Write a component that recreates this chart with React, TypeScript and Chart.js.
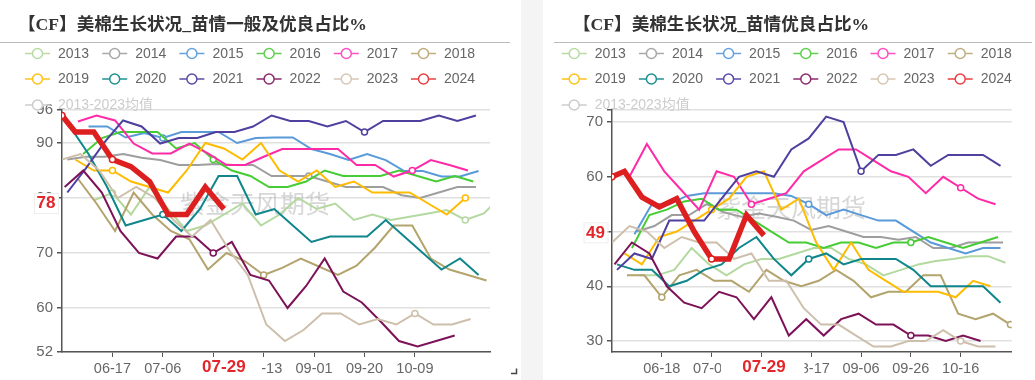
import React, { useEffect, useRef } from 'react';
import { Chart, registerables } from 'chart.js';

Chart.register(...registerables);

// ---------- shared ----------
const SERIES_NAMES = ['2013', '2014', '2015', '2016', '2017', '2018', '2019', '2020', '2021', '2022', '2023', '2024'];
const HIDDEN_LEGEND = '2013-2023均值';
const LINE_COLORS = ['#b4d9a0', '#9e9e9e', '#5a9ad8', '#46cc34', '#ff2aa8', '#b3a36c', '#ffbb00', '#0f868b', '#4f3f9e', '#7d1258', '#cdbfab', '#dd1f1f'];
const LEGEND_COLORS = ['#b8dba4', '#a8a8a8', '#64a2e0', '#5fcf4f', '#ff4fc0', '#bfae80', '#ffc21a', '#1f9090', '#5a4aa8', '#8c2a6a', '#d4c6b2', '#e84040'];
const WATERMARK = '紫金天风期货';
const POINTER_LABEL = '07-29';
const POINTER_DAY = 61; // days after 05-29

// ---------- left chart: 苗情一般及优良占比 ----------
const LEFT_TITLE = '【CF】美棉生长状况_苗情一般及优良占比%';
const LEFT_Y_TICKS = [52, 60, 70, 80, 90, 96];
const LEFT_Y_LABELS = [52, 60, 70, 80, 90, 96];
const LEFT_X_TICK_DAYS = [19, 38, 57, 76, 95, 114, 133];
const LEFT_X_TICK_LABELS = ['06-17', '07-06', '07-25', '08-13', '09-01', '09-20', '10-09'];
const LEFT_STARTS = [12, 2, 10, 8, 6, 6, 5, -4, 2, 1, 0];
const L2013 = [79.6, 80.9, 77, 82, 78, 74, 75, 77, 79, 75, 77, 80, 78, 79, 76, 77, 76, 76.6, 77.2, 77.8, 76, 77.2, 80.5];
const L2014 = [87, 87.5, 87.5, 88, 87.3, 86.9, 86, 86, 86.2, 86, 86, 84, 84, 84, 83, 82, 82, 82, 80.5, 80, 81, 82, 82];
const L2015 = [93, 93, 91, 91.8, 90.9, 92, 92, 92, 90, 90.9, 91, 91, 88.9, 88, 86.9, 88, 86.9, 84.9, 84.9, 83.9, 83.9, 84.9];
const L2016 = [88, 90.9, 92, 92, 92, 89, 90, 87, 85, 84, 82, 82, 83, 85, 84, 84, 84, 85, 84, 83, 84, 83];
const L2017 = [93.9, 95, 94.1, 89.9, 88.1, 88.1, 89.9, 88.1, 86, 86, 87.5, 88.9, 88.9, 88.9, 88.9, 86, 86, 83.9, 85, 86.9, 86, 85];
const L2018 = [83.5, 79, 74, 81, 77, 74, 72.5, 67, 70, 68.5, 66, 67.3, 69, 67.5, 66, 67.7, 71, 75, 75, 69, 67, 66, 65];
const L2019 = [87, 85, 85, 83, 82, 81, 85, 90, 89, 87, 90, 85, 83, 85, 82, 83, 81, 81, 81, 79, 77, 80];
const L2020 = [98.5, 93, 88, 82, 75, 76, 77, 74, 78, 84, 84, 77, 78, 75, 72, 73, 73, 73, 76, 73, 70, 67, 69, 66];
const L2021 = [81, 85.4, 90.1, 94.1, 93, 89.9, 90.9, 90.9, 92, 92, 93, 95, 94, 94, 93, 94, 92, 94, 94, 94, 95, 94, 95];
const L2022 = [82, 85, 81, 74, 70, 69, 73, 73, 70, 72, 66, 65, 60, 64, 69, 63, 61, 57.6, 54, 53, 54, 55];
const L2023 = [87, 88, 85, 80, 82, 80, 76, 73, 76, 70.5, 66, 57, 54, 56, 59, 59, 57, 58, 57, 59, 57, 57, 58];
const L2024_DAYS = [0, 5, 12, 19, 26, 33, 40, 47, 54, 61];
const L2024 = [95, 92, 92, 87, 85.7, 83, 77, 77, 82, 78];
const LEFT_MARKS = [[1, 20], [13], [4], [7], [18], [10], [2, 21], [6], [16], [8], [19], [0, 3]];

// ---------- right chart: 苗情优良占比 ----------
const RIGHT_TITLE = '【CF】美棉生长状况_苗情优良占比%';
const RIGHT_Y_TICKS = [30, 40, 50, 60, 70, 72.2];
const RIGHT_Y_LABELS = [30, 40, 50, 60, 70];
const RIGHT_X_TICK_DAYS = [20, 40, 60, 80, 100, 120, 140];
const RIGHT_X_TICK_LABELS = ['06-18', '07-08', '07-28', '08-17', '09-06', '09-26', '10-16'];
const RIGHT_STARTS = [11, 10, 9, 8, 7, 6, 5, 2, 2, 1, 0];
const R2013 = [42, 42, 43, 47, 44, 42, 44, 45, 45, 46, 47, 47, 45, 44, 42, 43, 44, 44.6, 45, 45.5, 45.5, 44.3];
const R2014 = [50, 51, 53, 53, 55, 53.5, 52.7, 53.3, 52.7, 52, 50.3, 51, 50, 49, 49, 48.5, 49, 47, 47, 48, 48, 48];
const R2015 = [49.5, 55, 55, 56.5, 57, 57, 57, 57, 57, 56.5, 55, 53, 54, 53, 52, 52, 50, 48, 47, 46, 47, 47];
const R2016 = [47, 53, 54, 55.5, 56, 54, 54, 52, 50, 48, 48, 47, 48, 48, 47, 48, 48, 49, 48, 47, 48, 49];
const R2017 = [60, 66, 61, 57.5, 54, 61, 60, 55, 56, 57, 61, 63, 65, 65, 63, 61, 60, 57, 60, 58, 56, 55];
const R2018 = [42, 42, 38, 42, 43, 41, 41, 39, 43, 41, 40, 41, 43, 41, 38, 39, 39, 42, 42, 35, 34, 35, 33];
const R2019 = [46, 44, 49, 50, 52, 54, 56, 60, 61, 54, 56, 48, 43, 48, 43, 41, 39, 39, 39, 38, 41, 40];
const R2020 = [44, 43, 43, 40, 41, 43, 44, 47, 49, 45, 42, 45, 46, 44, 45, 45, 45, 43, 40, 40, 40, 40, 37];
const R2021 = [43, 46, 45, 52, 52, 52, 56, 60, 61, 60, 65, 67, 71, 70, 61, 64, 64, 65, 62, 64, 64, 64, 62];
const R2022 = [44, 48, 46, 40, 37, 36, 39, 38, 34, 38, 31, 34, 31, 34, 35, 33, 33, 31, 31, 30, 31, 30];
const R2023 = [48, 51, 50, 47, 49, 48, 48, 45, 46, 41, 41, 36, 33, 33, 31, 29, 29, 30, 30, 32, 30, 29, 29];
const R2024_DAYS = [0, 5, 12, 19, 26, 33, 40, 47, 54, 61];
const R2024 = [60, 61, 56.3, 54.5, 56, 50, 45, 45, 53, 49.3];
const RIGHT_MARKS = [[], [], [10], [16], [7, 19], [2, 22], [5], [11], [14], [17], [20], [0, 6]];

const FONT = '"Liberation Sans", "Noto Sans CJK SC", sans-serif';

type Spec = {
  width: number;
  padRight: number;
  yAxisWidth: number;
  yMin: number;
  yMax: number;
  yTicks: number[];
  yLabels: number[];
  xMax: number;
  xTickDays: number[];
  xTickLabels: string[];
  title: string;
  titleX: number;
  ruleX0: number;
  ruleX1: number;
  legendX: number;
  wmX: number;
  wmY: number;
  yLabelCx: number;
  yLabelDy: number;
  boxL: number;
  boxR: number;
  starts: number[];
  series: number[][];
  lastDays: number[];
  last: number[];
  marks: number[][];
  corner: boolean;
};

function buildDatasets(spec: Spec) {
  const all = [...spec.series, spec.last];
  return all.map((vals, si) => {
    const isLast = si === all.length - 1;
    const data = vals.map((y, i) => ({ x: isLast ? spec.lastDays[i] : spec.starts[si] + 7 * i, y }));
    const radii = vals.map((_, i) => (spec.marks[si].includes(i) ? 3 : 0));
    return {
      label: SERIES_NAMES[si],
      data,
      borderColor: LINE_COLORS[si],
      backgroundColor: LINE_COLORS[si],
      borderWidth: isLast ? 5.5 : 2,
      pointRadius: radii,
      pointHoverRadius: radii,
      pointBackgroundColor: '#ffffff',
      pointBorderColor: LINE_COLORS[si],
      pointBorderWidth: 1.5,
      tension: 0,
      fill: false,
      order: 100 - si,
    };
  });
}

function overlayPlugin(spec: Spec) {
  return {
    id: 'overlay',
    beforeDatasetsDraw(chart: any) {
      const ctx = chart.ctx;
      ctx.save();
      ctx.font = '25px "Noto Sans CJK SC", sans-serif';
      ctx.fillStyle = 'rgba(150,150,150,0.38)';
      ctx.textBaseline = 'middle';
      ctx.textAlign = 'left';
      ctx.fillText(WATERMARK, spec.wmX, spec.wmY);
      ctx.restore();
    },
    afterDraw(chart: any) {
      const ctx = chart.ctx;
      const xs = chart.scales.x;
      const ys = chart.scales.y;
      ctx.save();
      // title
      ctx.font = 'bold 17.6px "Liberation Serif", "Noto Sans CJK SC", serif';
      ctx.fillStyle = '#333';
      ctx.textBaseline = 'middle';
      ctx.textAlign = 'left';
      ctx.fillText(spec.title, spec.titleX, 25);
      // rule
      ctx.strokeStyle = '#bbbbbb';
      ctx.lineWidth = 1;
      ctx.beginPath();
      ctx.moveTo(spec.ruleX0, 42.5);
      ctx.lineTo(spec.ruleX1, 42.5);
      ctx.stroke();
      // legend
      const items = [
        ...SERIES_NAMES.map((t, i) => ({ t, c: LEGEND_COLORS[i], on: true })),
        { t: HIDDEN_LEGEND, c: '#cccccc', on: false },
      ];
      const rows = [53.5, 79, 105];
      items.forEach((it, k) => {
        const x = spec.legendX + (k % 6) * 77.2;
        const y = rows[Math.floor(k / 6)];
        ctx.strokeStyle = it.c;
        ctx.lineWidth = 1.5;
        ctx.beginPath();
        ctx.moveTo(x, y);
        ctx.lineTo(x + 25, y);
        ctx.stroke();
        ctx.beginPath();
        ctx.arc(x + 12.5, y, 5, 0, Math.PI * 2);
        ctx.fillStyle = '#fff';
        ctx.fill();
        ctx.stroke();
        ctx.font = '14px ' + FONT;
        ctx.fillStyle = it.on ? '#666' : '#cccccc';
        ctx.textBaseline = 'middle';
        ctx.fillText(it.t, x + 33, y + 0.5);
      });
      // x pointer label
      const px = xs.getPixelForValue(POINTER_DAY);
      const by = chart.chartArea.bottom;
      ctx.fillStyle = '#fff';
      ctx.fillRect(px - spec.boxL, by + 5, spec.boxL + spec.boxR, 22);
      ctx.font = 'bold 17px ' + FONT;
      ctx.fillStyle = '#e3262b';
      ctx.textAlign = 'center';
      ctx.textBaseline = 'middle';
      ctx.fillText(POINTER_LABEL, px, by + 15);
      // y pointer label
      const lv = spec.last[spec.last.length - 1];
      const py = ys.getPixelForValue(lv) + spec.yLabelDy;
      ctx.fillStyle = '#fff';
      ctx.fillRect(spec.yLabelCx - 12, py - 10, 24, 20);
      ctx.strokeStyle = '#eeeeee';
      ctx.lineWidth = 1;
      ctx.strokeRect(spec.yLabelCx - 12 + 0.5, py - 10 + 0.5, 24, 20);
      ctx.fillStyle = '#e3262b';
      ctx.fillText(String(Math.round(lv)), spec.yLabelCx, py + 0.5);
      // resize corner mark
      if (spec.corner) {
        ctx.strokeStyle = '#444';
        ctx.lineWidth = 1.5;
        ctx.beginPath();
        ctx.moveTo(511, 373.5);
        ctx.lineTo(516.5, 373.5);
        ctx.lineTo(516.5, 368.5);
        ctx.stroke();
      }
      ctx.restore();
    },
  };
}

function Panel({ spec, left }: { spec: Spec; left: number }) {
  const ref = useRef<HTMLCanvasElement | null>(null);
  useEffect(() => {
    if (!ref.current) return;
    const chart = new Chart(ref.current, {
      type: 'line',
      data: { datasets: buildDatasets(spec) as any },
      options: {
        responsive: false,
        animation: false,
        devicePixelRatio: 1,
        events: [],
        layout: { padding: { top: 110, right: spec.padRight, left: 0, bottom: 0 } },
        plugins: { legend: { display: false }, tooltip: { enabled: false }, title: { display: false } },
        scales: {
          x: {
            type: 'linear',
            min: 0,
            max: spec.xMax,
            afterBuildTicks: (s: any) => {
              s.ticks = spec.xTickDays.map((v) => ({ value: v }));
            },
            afterFit: (s: any) => {
              s.height = 28;
            },
            ticks: {
              autoSkip: false,
              maxRotation: 0,
              padding: 3,
              color: '#666',
              font: { family: FONT, size: 14.5 },
              callback: (v: any) => {
                const i = spec.xTickDays.indexOf(Number(v));
                return i >= 0 ? spec.xTickLabels[i] : '';
              },
            },
            grid: { drawOnChartArea: false, drawTicks: true, tickLength: 5, tickColor: '#555', lineWidth: 1 },
            border: { color: '#555', width: 1.5 },
          },
          y: {
            type: 'linear',
            min: spec.yMin,
            max: spec.yMax,
            afterBuildTicks: (s: any) => {
              s.ticks = spec.yTicks.map((v) => ({ value: v }));
            },
            afterFit: (s: any) => {
              s.width = spec.yAxisWidth;
            },
            ticks: {
              padding: 4,
              color: '#666',
              font: { family: FONT, size: 15 },
              callback: (v: any) => (spec.yLabels.includes(Number(v)) ? String(v) : ''),
            },
            grid: { color: '#e0e0e0', lineWidth: 1.5, drawTicks: true, tickLength: 5, tickColor: '#555' },
            border: { color: '#555', width: 1.5 },
          },
        },
      },
      plugins: [overlayPlugin(spec)],
    });
    return () => chart.destroy();
  }, [spec]);
  return (
    <div style={{ position: 'absolute', left, top: 0, width: spec.width, height: 380, background: '#fff' }}>
      <canvas ref={ref} width={spec.width} height={380} style={{ display: 'block', width: spec.width, height: 380 }} />
    </div>
  );
}

const LEFT_SPEC: Spec = {
  width: 521,
  padRight: 31,
  yAxisWidth: 62,
  yMin: 52,
  yMax: 96,
  yTicks: LEFT_Y_TICKS,
  yLabels: LEFT_Y_LABELS,
  xMax: 161.3,
  xTickDays: LEFT_X_TICK_DAYS,
  xTickLabels: LEFT_X_TICK_LABELS,
  title: LEFT_TITLE,
  titleX: 18,
  ruleX0: 0,
  ruleX1: 510,
  legendX: 25,
  wmX: 180,
  wmY: 203,
  yLabelCx: 46,
  yLabelDy: -6,
  boxL: 38,
  boxR: 38,
  starts: LEFT_STARTS,
  series: [L2013, L2014, L2015, L2016, L2017, L2018, L2019, L2020, L2021, L2022, L2023],
  lastDays: L2024_DAYS,
  last: L2024,
  marks: LEFT_MARKS,
  corner: true,
};

const RIGHT_SPEC: Spec = {
  width: 492,
  padRight: 23.3,
  yAxisWidth: 69,
  yMin: 28,
  yMax: 72.2,
  yTicks: RIGHT_Y_TICKS,
  yLabels: RIGHT_Y_LABELS,
  xMax: 160.5,
  xTickDays: RIGHT_X_TICK_DAYS,
  xTickLabels: RIGHT_X_TICK_LABELS,
  title: RIGHT_TITLE,
  titleX: 30,
  ruleX0: 11,
  ruleX1: 489,
  legendX: 18.7,
  wmX: 173,
  wmY: 207,
  yLabelCx: 52.5,
  yLabelDy: -3,
  boxL: 43,
  boxR: 40.5,
  starts: RIGHT_STARTS,
  series: [R2013, R2014, R2015, R2016, R2017, R2018, R2019, R2020, R2021, R2022, R2023],
  lastDays: R2024_DAYS,
  last: R2024,
  marks: RIGHT_MARKS,
  corner: false,
};

export default function App() {
  return (
    <div style={{ position: 'absolute', left: 0, top: 0, width: 1035, height: 380, background: '#f4f4f4', overflow: 'hidden' }}>
      <Panel spec={LEFT_SPEC} left={0} />
      <Panel spec={RIGHT_SPEC} left={543} />
    </div>
  );
}
